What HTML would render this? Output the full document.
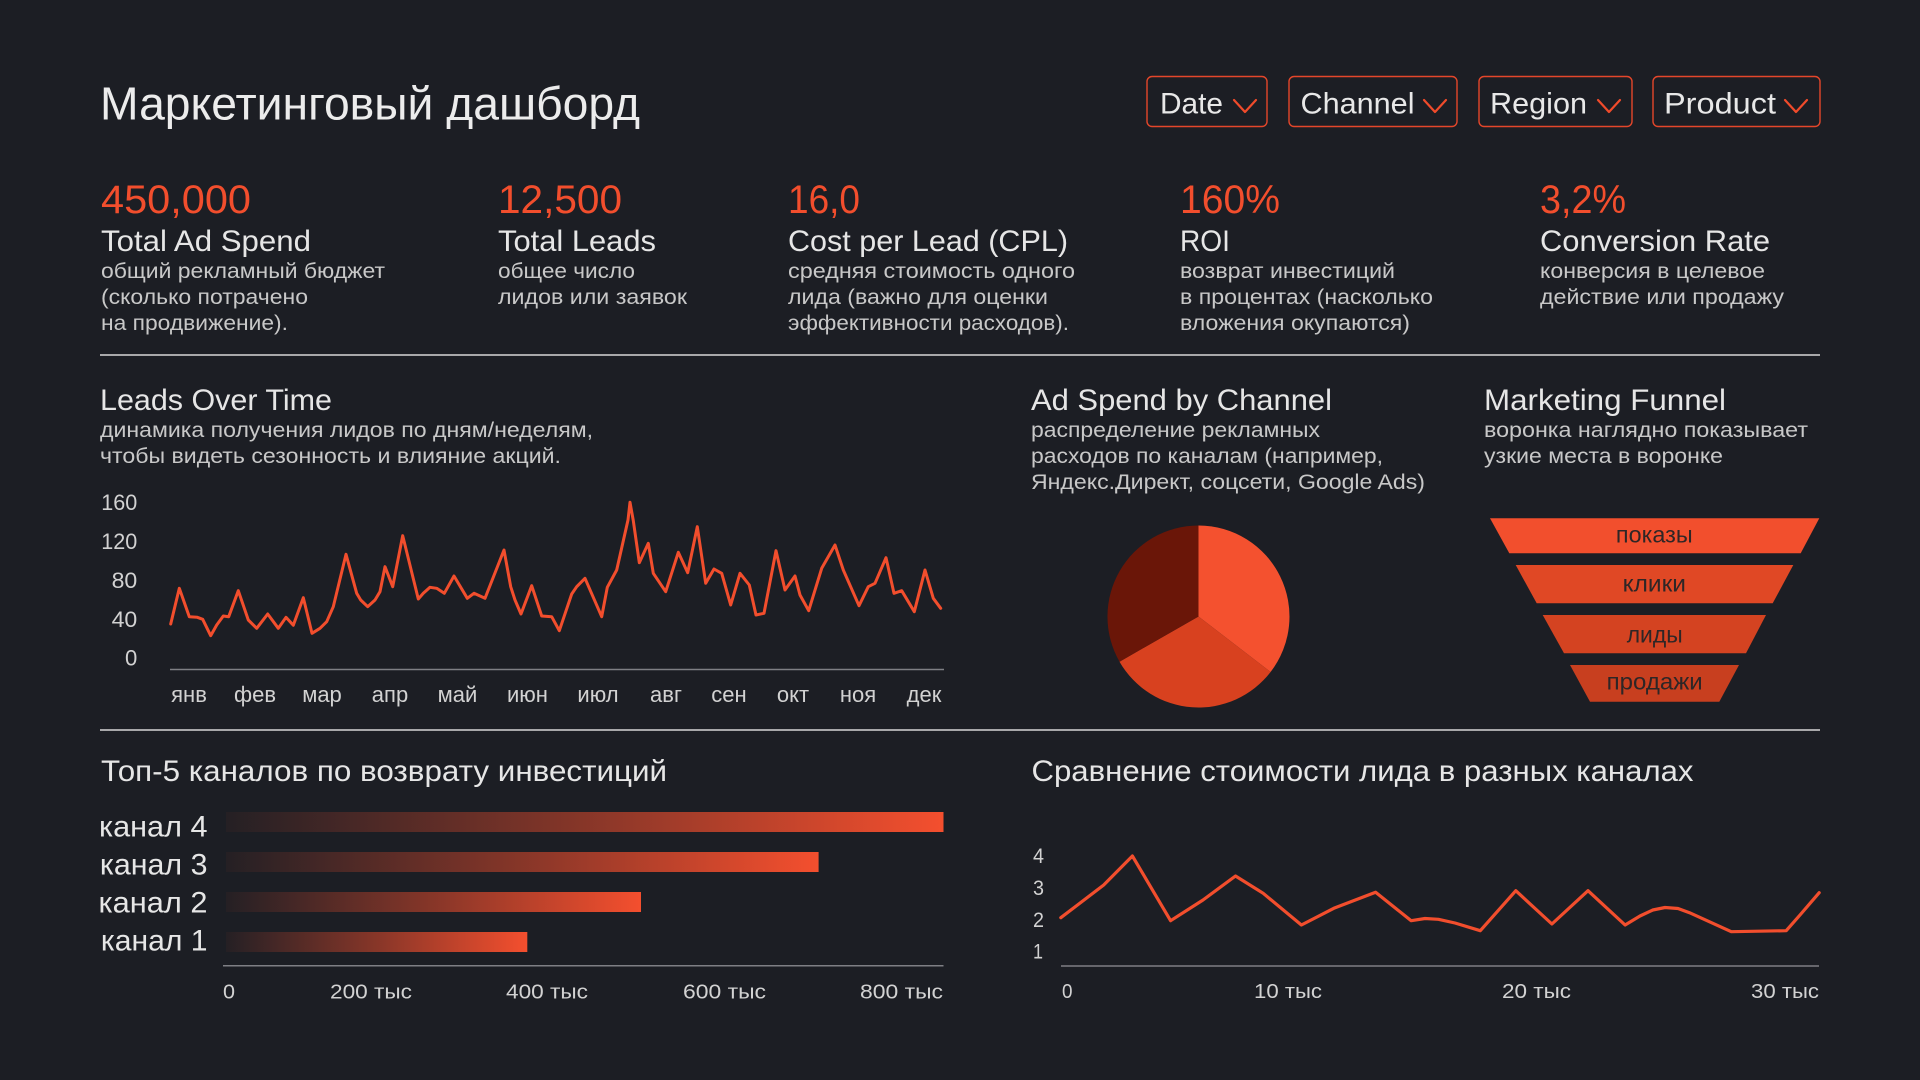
<!DOCTYPE html>
<html>
<head>
<meta charset="utf-8">
<style>
html,body{margin:0;padding:0;background:#1c1e24;}
svg{display:block;}
text{font-family:"Liberation Sans","DejaVu Sans",sans-serif;}
</style>
</head>
<body>
<svg width="1920" height="1080" viewBox="0 0 1920 1080" xmlns="http://www.w3.org/2000/svg">
<defs>
<linearGradient id="bg" x1="0" y1="0" x2="1" y2="0">
<stop offset="0" stop-color="#f24e2d" stop-opacity="0.04"/>
<stop offset="0.5" stop-color="#f24e2d" stop-opacity="0.5"/>
<stop offset="1" stop-color="#f44f2e" stop-opacity="1"/>
</linearGradient>
</defs>
<rect width="1920" height="1080" fill="#1c1e24"/>

<!-- Title -->
<text x="100" y="119.5" font-size="46" fill="#ececec" textLength="540" lengthAdjust="spacingAndGlyphs">Маркетинговый дашборд</text>

<!-- Filters -->
<g fill="none" stroke="#e4462a" stroke-width="1.4">
<rect x="1147" y="76.5" width="120" height="50" rx="5"/>
<rect x="1289" y="76.5" width="168" height="50" rx="5"/>
<rect x="1479" y="76.5" width="153" height="50" rx="5"/>
<rect x="1653" y="76.5" width="167" height="50" rx="5"/>
</g>
<g font-size="30" fill="#e8e8e8">
<text x="1160" y="113.3" textLength="63" lengthAdjust="spacingAndGlyphs">Date</text>
<text x="1300.5" y="113.3" textLength="114" lengthAdjust="spacingAndGlyphs">Channel</text>
<text x="1490" y="113.3" textLength="97" lengthAdjust="spacingAndGlyphs">Region</text>
<text x="1664" y="113.3" textLength="112" lengthAdjust="spacingAndGlyphs">Product</text>
</g>
<g fill="none" stroke="#f04b2b" stroke-width="2.2" stroke-linecap="round" stroke-linejoin="round">
<polyline points="1234,100 1245,112 1256,100"/>
<polyline points="1424,100 1435,112 1446,100"/>
<polyline points="1598,100 1609,112 1620,100"/>
<polyline points="1785,100 1796,112 1807,100"/>
</g>

<!-- KPI values -->
<g font-size="40" fill="#f24e2d">
<text x="101" y="213" textLength="150" lengthAdjust="spacingAndGlyphs">450,000</text>
<text x="498" y="213" textLength="124" lengthAdjust="spacingAndGlyphs">12,500</text>
<text x="788" y="213" textLength="72" lengthAdjust="spacingAndGlyphs">16,0</text>
<text x="1180" y="213" textLength="100" lengthAdjust="spacingAndGlyphs">160%</text>
<text x="1540" y="213" textLength="86" lengthAdjust="spacingAndGlyphs">3,2%</text>
</g>
<!-- KPI labels -->
<g font-size="30" fill="#e6e6e6">
<text x="101" y="251" textLength="210" lengthAdjust="spacingAndGlyphs">Total Ad Spend</text>
<text x="498" y="251" textLength="158" lengthAdjust="spacingAndGlyphs">Total Leads</text>
<text x="788" y="251" textLength="280" lengthAdjust="spacingAndGlyphs">Cost per Lead (CPL)</text>
<text x="1180" y="251" textLength="50" lengthAdjust="spacingAndGlyphs">ROI</text>
<text x="1540" y="251" textLength="230" lengthAdjust="spacingAndGlyphs">Conversion Rate</text>
</g>
<!-- KPI descriptions -->
<g font-size="21" fill="#c8c8c8">
<text x="101" y="278" textLength="284" lengthAdjust="spacingAndGlyphs">общий рекламный бюджет</text>
<text x="101" y="304" textLength="207" lengthAdjust="spacingAndGlyphs">(сколько потрачено</text>
<text x="101" y="330" textLength="187" lengthAdjust="spacingAndGlyphs">на продвижение).</text>
<text x="498" y="278" textLength="137" lengthAdjust="spacingAndGlyphs">общее число</text>
<text x="498" y="304" textLength="189" lengthAdjust="spacingAndGlyphs">лидов или заявок</text>
<text x="788" y="278" textLength="287" lengthAdjust="spacingAndGlyphs">средняя стоимость одного</text>
<text x="788" y="304" textLength="260" lengthAdjust="spacingAndGlyphs">лида (важно для оценки</text>
<text x="788" y="330" textLength="281" lengthAdjust="spacingAndGlyphs">эффективности расходов).</text>
<text x="1180" y="278" textLength="215" lengthAdjust="spacingAndGlyphs">возврат инвестиций</text>
<text x="1180" y="304" textLength="253" lengthAdjust="spacingAndGlyphs">в процентах (насколько</text>
<text x="1180" y="330" textLength="230" lengthAdjust="spacingAndGlyphs">вложения окупаются)</text>
<text x="1540" y="278" textLength="225" lengthAdjust="spacingAndGlyphs">конверсия в целевое</text>
<text x="1540" y="304" textLength="244" lengthAdjust="spacingAndGlyphs">действие или продажу</text>
</g>

<!-- Dividers -->
<line x1="100" y1="355" x2="1820" y2="355" stroke="#d6d6d6" stroke-width="1.4"/>
<line x1="100" y1="730" x2="1820" y2="730" stroke="#d6d6d6" stroke-width="1.4"/>

<!-- Section headers -->
<g font-size="30" fill="#e6e6e6">
<text x="100" y="410" textLength="232" lengthAdjust="spacingAndGlyphs">Leads Over Time</text>
<text x="1031" y="410" textLength="301" lengthAdjust="spacingAndGlyphs">Ad Spend by Channel</text>
<text x="1484" y="410" textLength="242" lengthAdjust="spacingAndGlyphs">Marketing Funnel</text>
<text x="101" y="781" textLength="566" lengthAdjust="spacingAndGlyphs">Топ-5 каналов по возврату инвестиций</text>
<text x="1031.5" y="781" textLength="662" lengthAdjust="spacingAndGlyphs">Сравнение стоимости лида в разных каналах</text>
</g>
<g font-size="21" fill="#c8c8c8">
<text x="100" y="437" textLength="493" lengthAdjust="spacingAndGlyphs">динамика получения лидов по дням/неделям,</text>
<text x="100" y="463" textLength="461" lengthAdjust="spacingAndGlyphs">чтобы видеть сезонность и влияние акций.</text>
<text x="1031" y="437" textLength="289" lengthAdjust="spacingAndGlyphs">распределение рекламных</text>
<text x="1031" y="463" textLength="352" lengthAdjust="spacingAndGlyphs">расходов по каналам (например,</text>
<text x="1031" y="489" textLength="394" lengthAdjust="spacingAndGlyphs">Яндекс.Директ, соцсети, Google Ads)</text>
<text x="1484" y="437" textLength="324" lengthAdjust="spacingAndGlyphs">воронка наглядно показывает</text>
<text x="1484" y="463" textLength="239" lengthAdjust="spacingAndGlyphs">узкие места в воронке</text>
</g>

<!-- Leads over time chart -->
<g font-size="22" fill="#d2d2d2" text-anchor="end">
<text x="137.3" y="510" textLength="36" lengthAdjust="spacingAndGlyphs">160</text>
<text x="137.3" y="549" textLength="36" lengthAdjust="spacingAndGlyphs">120</text>
<text x="137.3" y="588" textLength="25.7" lengthAdjust="spacingAndGlyphs">80</text>
<text x="137.3" y="627" textLength="25.7" lengthAdjust="spacingAndGlyphs">40</text>
<text x="137.3" y="665.5" textLength="12.3" lengthAdjust="spacingAndGlyphs">0</text>
</g>
<line x1="170" y1="669.5" x2="944" y2="669.5" stroke="#7e7f84" stroke-width="1.5"/>
<g font-size="22" fill="#d2d2d2" text-anchor="middle">
<text x="189" y="702">янв</text>
<text x="255" y="702">фев</text>
<text x="322" y="702">мар</text>
<text x="390" y="702">апр</text>
<text x="457.5" y="702">май</text>
<text x="527.5" y="702">июн</text>
<text x="598" y="702">июл</text>
<text x="666" y="702">авг</text>
<text x="729" y="702">сен</text>
<text x="793" y="702">окт</text>
<text x="858" y="702">ноя</text>
<text x="924" y="702">дек</text>
</g>
<polyline fill="none" stroke="#f24e2d" stroke-width="3" stroke-linejoin="round" stroke-linecap="round" points="170.7,624 179.3,588.3 189.3,616.7 197.3,617.3 202.7,619.3 210.7,635.7 216.7,625 223.3,616 228.7,616.7 238.3,590.7 248.3,620 256.7,628.3 267.7,614 278.3,628.3 286,617.3 293.3,625.3 303.3,597.7 312,633.3 320,628.3 326.7,621.7 333.3,606.7 346,554.3 356.7,593.3 360.7,600 367.7,606.7 375,600 380,591.7 385,566.7 392.7,586.7 402.7,535.7 418.3,599 423.3,593.3 430,587.3 436.7,588.3 444.3,593.3 454,576 467.3,598.3 474,593.3 485,598.3 504,550 510.7,586.7 515,600 521,614 531.7,585.7 541.7,616 551.7,616.7 559.3,630.7 571.7,594 576.7,586.7 585,578.3 601.7,616.7 607.3,587.3 616.7,570 628,520 630,502.3 633.3,520.7 639.3,562.7 648.3,543.3 653.3,573.3 665.7,591.7 678.3,552.3 687.7,572.7 697.3,526.7 705.7,583.3 714,569 721.7,573.3 730.7,605 740,573.3 749.3,585 756,615 764,613.3 776,550.7 785,590 795,576 800,595 808.7,610.7 821.7,568.3 835,545 843.3,570 859,605.7 868.3,586.7 875,583.3 886,557.7 894,593.3 901.7,590.7 914.3,611.7 925,570 933.3,598.3 940.7,608.3"/>

<!-- Pie -->
<path d="M1198.5,616.5 L1198.5,525.5 A91,91 0 0 1 1270.6,672 Z" fill="#f4512f"/>
<path d="M1198.5,616.5 L1270.6,672 A91,91 0 0 1 1119.5,661.7 Z" fill="#d8411f"/>
<path d="M1198.5,616.5 L1119.5,661.7 A91,91 0 0 1 1198.5,525.5 Z" fill="#6a1608"/>

<!-- Funnel -->
<polygon points="1490,518.3 1819.3,518.3 1800.7,553.3 1509.3,553.3" fill="#f24f2d"/>
<polygon points="1515.7,565 1793.3,565 1772.7,603.3 1536.7,603.3" fill="#e04825"/>
<polygon points="1542.7,615 1766,615 1746,653.3 1564,653.3" fill="#d44321"/>
<polygon points="1570,665 1739,665 1719.3,701.7 1590,701.7" fill="#c83f1f"/>
<g font-size="23" fill="#2e2626" text-anchor="middle">
<text x="1654.3" y="542.7" textLength="76.7" lengthAdjust="spacingAndGlyphs">показы</text>
<text x="1654.3" y="591.7" textLength="63.3" lengthAdjust="spacingAndGlyphs">клики</text>
<text x="1654.7" y="642.7" textLength="56" lengthAdjust="spacingAndGlyphs">лиды</text>
<text x="1654.7" y="689.3" textLength="96" lengthAdjust="spacingAndGlyphs">продажи</text>
</g>

<!-- Bars -->
<rect x="226" y="812" width="717.5" height="20" fill="url(#bg)"/>
<rect x="226" y="852" width="592.6" height="20" fill="url(#bg)"/>
<rect x="226" y="892" width="415" height="20" fill="url(#bg)"/>
<rect x="226" y="932" width="301.3" height="20" fill="url(#bg)"/>
<g font-size="30" fill="#e6e6e6" text-anchor="end">
<text x="207.5" y="836.5" textLength="108.5" lengthAdjust="spacingAndGlyphs">канал 4</text>
<text x="207.5" y="874.5" textLength="107.6" lengthAdjust="spacingAndGlyphs">канал 3</text>
<text x="207.5" y="912.5" textLength="109" lengthAdjust="spacingAndGlyphs">канал 2</text>
<text x="207.5" y="950.5" textLength="106.6" lengthAdjust="spacingAndGlyphs">канал 1</text>
</g>
<line x1="223" y1="965.7" x2="943.5" y2="965.7" stroke="#7e7f84" stroke-width="1.5"/>
<g font-size="20" fill="#d2d2d2">
<text x="223" y="998.3" textLength="12" lengthAdjust="spacingAndGlyphs">0</text>
<text x="330" y="998.3" textLength="82" lengthAdjust="spacingAndGlyphs">200 тыс</text>
<text x="506" y="998.3" textLength="82" lengthAdjust="spacingAndGlyphs">400 тыс</text>
<text x="683" y="998.3" textLength="83" lengthAdjust="spacingAndGlyphs">600 тыс</text>
<text x="860" y="998.3" textLength="83" lengthAdjust="spacingAndGlyphs">800 тыс</text>
</g>

<!-- CPL comparison chart -->
<g font-size="21" fill="#d2d2d2">
<text x="1033" y="863" textLength="11" lengthAdjust="spacingAndGlyphs">4</text>
<text x="1033" y="895" textLength="11" lengthAdjust="spacingAndGlyphs">3</text>
<text x="1033" y="927" textLength="11" lengthAdjust="spacingAndGlyphs">2</text>
<text x="1033" y="958.5" textLength="10" lengthAdjust="spacingAndGlyphs">1</text>
</g>
<line x1="1061" y1="966" x2="1819" y2="966" stroke="#7e7f84" stroke-width="1.5"/>
<g font-size="20" fill="#d2d2d2">
<text x="1062" y="998" textLength="10.5" lengthAdjust="spacingAndGlyphs">0</text>
<text x="1254" y="998" textLength="68" lengthAdjust="spacingAndGlyphs">10 тыс</text>
<text x="1502" y="998" textLength="69" lengthAdjust="spacingAndGlyphs">20 тыс</text>
<text x="1751" y="998" textLength="68" lengthAdjust="spacingAndGlyphs">30 тыс</text>
</g>
<polyline fill="none" stroke="#f24e2d" stroke-width="3.2" stroke-linejoin="round" stroke-linecap="round" points="1060.8,917.7 1077.5,905 1103.7,885 1132.4,856 1170.6,920.7 1203,900 1235.5,876 1263.2,893.3 1301.4,925 1333.8,908.3 1375.6,892.3 1411.2,920.7 1425,918.5 1438.4,919.3 1455,923 1480.3,930.7 1515.8,890.7 1551.9,924 1588,890.7 1625.1,925 1640,916 1652.8,910 1665,907.5 1678,908.5 1689.5,912.7 1731.3,931.7 1786.2,930.7 1800,915 1819.2,892.7"/>
</svg>
</body>
</html>
